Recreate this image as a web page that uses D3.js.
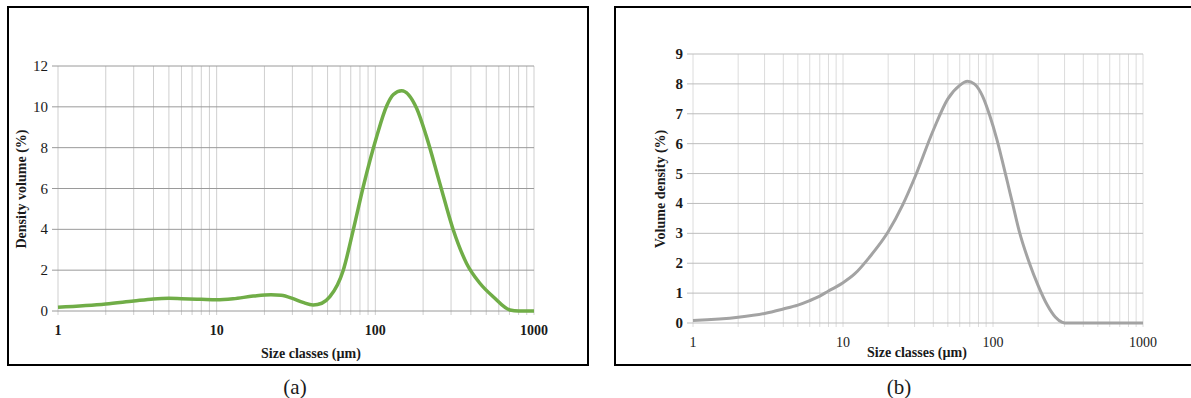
<!DOCTYPE html>
<html lang="en">
<head>
    <meta charset="UTF-8">
    <title>Particle size distributions</title>
    <script src="https://d3js.org/d3.v7.min.js"></script>
    <style>
        body { margin: 0; background: #fff; }
        svg text { font-family: "Liberation Serif", "Times New Roman", serif; fill: #1a1a1a; }
    </style>
</head>
<body>
    <svg id="chart" width="1191" height="398"></svg>

    <script>
        // Panel (a): density volume (%) vs size class (µm)
        const sizesA = [1, 2, 3, 4, 5, 6, 8, 10, 12.7, 17, 22, 25.5, 30, 35, 40.6, 46, 51.7, 62.8, 72.6, 84, 102, 118, 130, 146.5, 182, 210, 255, 310, 376, 456, 553, 705, 800, 1000];
        const valuesA = [0.18, 0.34, 0.49, 0.59, 0.62, 0.6, 0.57, 0.55, 0.6, 0.73, 0.8, 0.77, 0.62, 0.42, 0.3, 0.38, 0.7, 2.0, 3.97, 6.1, 8.55, 10.05, 10.6, 10.79, 9.93, 8.54, 6.25, 3.97, 2.33, 1.36, 0.7, 0.05, 0, 0];
        const yTicksA = [0, 2, 4, 6, 8, 10, 12];

        // Panel (b): volume density (%) vs size class (µm)
        const sizesB = [1, 2, 3, 4, 5, 6, 7, 8, 9, 10, 12, 15, 20, 25, 30, 40, 50, 60, 67.5, 75, 85, 95, 106, 115, 125, 135, 150, 175, 200, 230, 260, 290, 300, 1000];
        const valuesB = [0.08, 0.19, 0.32, 0.47, 0.6, 0.75, 0.9, 1.07, 1.21, 1.35, 1.65, 2.2, 3.05, 3.95, 4.85, 6.45, 7.5, 7.95, 8.09, 8.0, 7.6, 6.95, 6.15, 5.45, 4.7, 4.0, 3.05, 2.0, 1.25, 0.6, 0.2, 0.02, 0, 0];
        const yTicksB = [0, 1, 2, 3, 4, 5, 6, 7, 8, 9];

        const xTickLabels = [1, 10, 100, 1000];

        const svg = d3.select("#chart");

        function drawPanel(p) {
            // outer frame
            svg.append("rect")
                .attr("x", p.frame[0]).attr("y", p.frame[1])
                .attr("width", p.frame[2]).attr("height", p.frame[3])
                .attr("fill", "none").attr("stroke", "#000").attr("stroke-width", 2);

            const x = d3.scaleLog().domain([1, 1000]).range([p.left, p.right]);
            const y = d3.scaleLinear().domain([0, p.yMax]).range([p.bottom, p.top]);

            const g = svg.append("g");

            // vertical grid (every minor log tick)
            g.selectAll(".vgrid")
                .data(x.ticks())
                .join("line")
                .attr("x1", d => x(d)).attr("x2", d => x(d))
                .attr("y1", p.top).attr("y2", p.bottom + 4)
                .attr("stroke", p.vGrid).attr("stroke-width", 1);

            // horizontal grid
            g.selectAll(".hgrid")
                .data(p.yTicks)
                .join("line")
                .attr("x1", p.left - 6).attr("x2", p.right)
                .attr("y1", d => y(d)).attr("y2", d => y(d))
                .attr("stroke", p.hGrid).attr("stroke-width", 1);

            // y tick labels
            g.selectAll(".ylab")
                .data(p.yTicks)
                .join("text")
                .attr("x", p.left - 10)
                .attr("y", d => y(d) + 5)
                .attr("text-anchor", "end")
                .attr("font-size", 15)
                .attr("font-weight", p.yBold ? "bold" : "normal")
                .text(d => d);

            // x tick labels
            g.selectAll(".xlab")
                .data(xTickLabels)
                .join("text")
                .attr("x", d => x(d))
                .attr("y", p.xLabY)
                .attr("text-anchor", "middle")
                .attr("font-size", 14)
                .attr("font-weight", p.xBold ? "bold" : "normal")
                .text(d => d);

            // the curve
            const line = d3.line()
                .x((d, i) => x(p.sizes[i]))
                .y(d => y(d))
                .curve(d3.curveMonotoneX);

            g.append("path")
                .datum(p.values)
                .attr("d", line)
                .attr("fill", "none")
                .attr("stroke", p.color)
                .attr("stroke-width", p.lineWidth)
                .attr("stroke-linejoin", "round");

            // axis titles
            g.append("text")
                .attr("x", p.xTitle[0]).attr("y", p.xTitle[1])
                .attr("text-anchor", "middle")
                .attr("font-size", 14).attr("font-weight", "bold")
                .text("Size classes (µm)");

            g.append("text")
                .attr("transform", `translate(${p.yTitle[0]},${p.yTitle[1]}) rotate(-90)`)
                .attr("text-anchor", "middle")
                .attr("font-size", 14).attr("font-weight", "bold")
                .text(p.yTitleText);

            // caption
            svg.append("text")
                .attr("x", p.caption[0]).attr("y", p.caption[1])
                .attr("text-anchor", "middle")
                .attr("font-size", 21)
                .text(p.captionText);
        }

        drawPanel({
            frame: [8, 7, 580, 358],
            left: 58, right: 534, top: 66, bottom: 311,
            yMax: 12, yTicks: yTicksA,
            sizes: sizesA, values: valuesA,
            color: "#70ad47", lineWidth: 3.5,
            hGrid: "#9a9a9a", vGrid: "#cfcfcf",
            yBold: false, xBold: true, xLabY: 335,
            xTitle: [311, 358], yTitle: [26, 189], yTitleText: "Density volume (%)",
            caption: [295, 394], captionText: "(a)"
        });

        drawPanel({
            frame: [615, 7, 580, 358],
            left: 693, right: 1143, top: 54, bottom: 323,
            yMax: 9, yTicks: yTicksB,
            sizes: sizesB, values: valuesB,
            color: "#a3a3a3", lineWidth: 3,
            hGrid: "#bdbdbd", vGrid: "#dcdcdc",
            yBold: true, xBold: false, xLabY: 347,
            xTitle: [917, 357], yTitle: [665, 189], yTitleText: "Volume density (%)",
            caption: [899, 394], captionText: "(b)"
        });
    </script>
</body>
</html>
